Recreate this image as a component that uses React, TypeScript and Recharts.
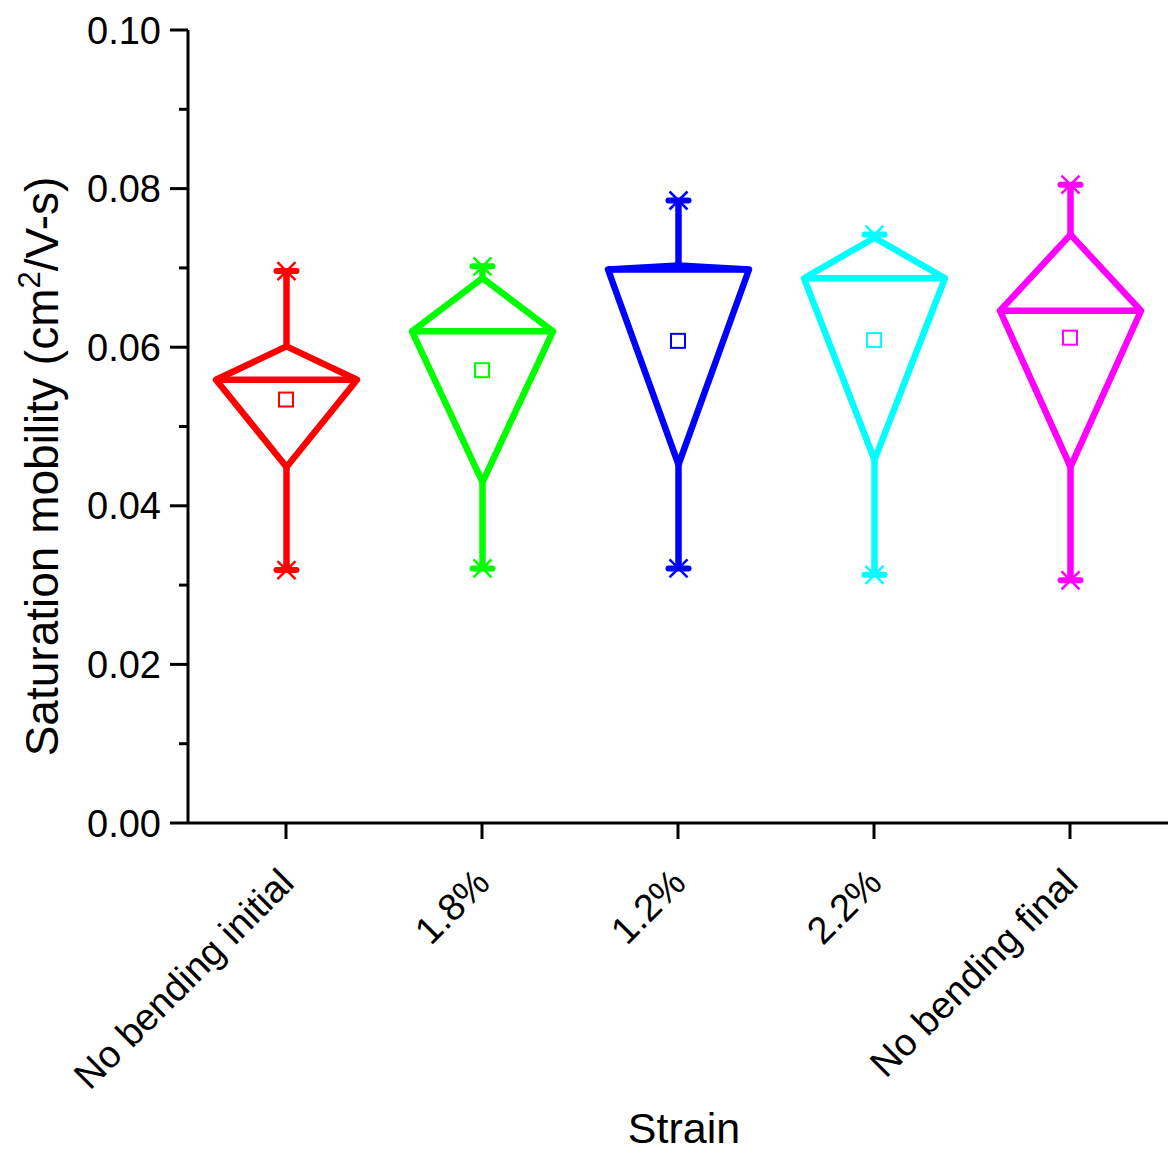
import React from 'react';
import { ComposedChart, Bar, Scatter, XAxis, YAxis } from 'recharts';

const categories = ['No bending initial', '1.8%', '1.2%', '2.2%', 'No bending final'];
const minVals = [0.0319, 0.0321, 0.0321, 0.0313, 0.0306];
const q1Vals = [0.0449, 0.043, 0.0452, 0.0458, 0.0449];
const medianVals = [0.0559, 0.062, 0.0698, 0.0687, 0.0646];
const q3Vals = [0.0601, 0.0687, 0.0703, 0.0738, 0.0742];
const maxVals = [0.0696, 0.0702, 0.0785, 0.0742, 0.0805];
const meanVals = [0.0534, 0.0571, 0.0608, 0.0609, 0.0612];
const colors = ['#FF0000', '#00FF00', '#0000FF', '#00FFFF', '#FF00FF'];
const yTicks = [0, 0.01, 0.02, 0.03, 0.04, 0.05, 0.06, 0.07, 0.08, 0.09, 0.1];

const data = categories.map((name, i) => ({
  name,
  range: [minVals[i], maxVals[i]],
  min: minVals[i],
  q1: q1Vals[i],
  median: medianVals[i],
  q3: q3Vals[i],
  max: maxVals[i],
  mean: meanVals[i],
  color: colors[i],
}));

const FONT = '"Liberation Sans", Arial, Helvetica, sans-serif';
const SW = 6.5;

const Marker = ({ cx, cy, color }: any) => (
  <g>
    <line x1={cx - 10} y1={cy} x2={cx + 10} y2={cy} stroke={color} strokeWidth={6} strokeLinecap="round" />
    <line x1={cx - 9} y1={cy - 9} x2={cx + 9} y2={cy + 9} stroke={color} strokeWidth={2.5} />
    <line x1={cx - 9} y1={cy + 9} x2={cx + 9} y2={cy - 9} stroke={color} strokeWidth={2.5} />
  </g>
);

const DiamondShape = (props: any) => {
  const { x, y, width, height, payload } = props;
  const { min, max, q1, q3, median, color } = payload;
  const k = height / (max - min);
  const yOf = (v: number) => y + (max - v) * k;
  const cx = x + width / 2;
  const yMed = yOf(median);
  const yQ1 = yOf(q1);
  const yQ3 = yOf(q3);
  const yMax = yOf(max);
  const yMin = yOf(min);
  return (
    <g>
      <line x1={cx} y1={yQ3} x2={cx} y2={yMax} stroke={color} strokeWidth={SW} />
      <line x1={cx} y1={yQ1} x2={cx} y2={yMin} stroke={color} strokeWidth={SW} />
      <polygon
        points={`${x},${yMed} ${cx},${yQ3} ${x + width},${yMed} ${cx},${yQ1}`}
        fill="none"
        stroke={color}
        strokeWidth={SW}
        strokeLinejoin="round"
      />
      <line x1={x} y1={yMed} x2={x + width} y2={yMed} stroke={color} strokeWidth={SW} />
      <Marker cx={cx} cy={yMax} color={color} />
      <Marker cx={cx} cy={yMin} color={color} />
    </g>
  );
};

const MeanShape = (props: any) => {
  const { cx, cy, payload } = props;
  return <rect x={cx - 7} y={cy - 7} width={14} height={14} fill="none" stroke={payload.color} strokeWidth={2} />;
};

const YTick = (props: any) => {
  const { x, y, payload, index } = props;
  const major = index % 2 === 0;
  return (
    <g>
      <line x1={x - (major ? 18 : 9)} y1={y} x2={x} y2={y} stroke="#000" strokeWidth={3} />
      {major && (
        <text x={x - 27} y={y + 13.5} textAnchor="end" fontSize={38} fontFamily={FONT} fill="#000">
          {payload.value.toFixed(2)}
        </text>
      )}
    </g>
  );
};

const XTick = (props: any) => {
  const { x, y, payload } = props;
  const tx = x + 10;
  const ty = y + 62;
  return (
    <g>
      <line x1={x} y1={y} x2={x} y2={y + 16} stroke="#000" strokeWidth={3} />
      <text
        x={tx}
        y={ty}
        textAnchor="end"
        fontSize={38}
        fontFamily={FONT}
        fill="#000"
        transform={`rotate(-45, ${tx}, ${ty})`}
      >
        {payload.value}
      </text>
    </g>
  );
};

const XLabel = (props: any) => {
  const { viewBox } = props;
  const cx = viewBox.x + viewBox.width / 2 + 6;
  const by = viewBox.y + viewBox.height - 11;
  return (
    <text x={cx} y={by} textAnchor="middle" fontSize={43} fontFamily={FONT} fill="#000">
      Strain
    </text>
  );
};

const YLabel = (props: any) => {
  const { viewBox } = props;
  const tx = viewBox.x + 58;
  const ty = viewBox.y + viewBox.height / 2 + 40;
  return (
    <text
      x={tx}
      y={ty}
      textAnchor="middle"
      fontSize={46}
      fontFamily={FONT}
      fill="#000"
      transform={`rotate(-90, ${tx}, ${ty})`}
    >
      <tspan>Saturation mobility (cm</tspan>
      <tspan dy={-18} fontSize={31}>2</tspan>
      <tspan dy={18}>/V-s)</tspan>
    </text>
  );
};

export default function App() {
  return (
    <div style={{ position: 'absolute', left: 0, top: 0, width: 1168, height: 1154, background: '#fff' }}>
      <ComposedChart
        width={1168}
        height={1154}
        data={data}
        margin={{ top: 30, right: 0, bottom: 0, left: 0 }}
      >
        <XAxis
          dataKey="name"
          type="category"
          height={331}
          tickSize={0}
          tickMargin={0}
          tickLine={false}
          axisLine={{ stroke: '#000', strokeWidth: 3 }}
          tick={<XTick />}
          interval={0}
          label={<XLabel />}
        />
        <YAxis
          type="number"
          domain={[0, 0.1]}
          ticks={yTicks}
          interval={0}
          width={188}
          tickSize={0}
          tickMargin={0}
          tickLine={false}
          axisLine={{ stroke: '#000', strokeWidth: 3 }}
          tick={<YTick />}
          allowDataOverflow
          label={<YLabel />}
        />
        <Bar dataKey="range" barSize={141} shape={<DiamondShape />} isAnimationActive={false} />
        <Scatter dataKey="mean" shape={<MeanShape />} isAnimationActive={false} />
      </ComposedChart>
    </div>
  );
}
